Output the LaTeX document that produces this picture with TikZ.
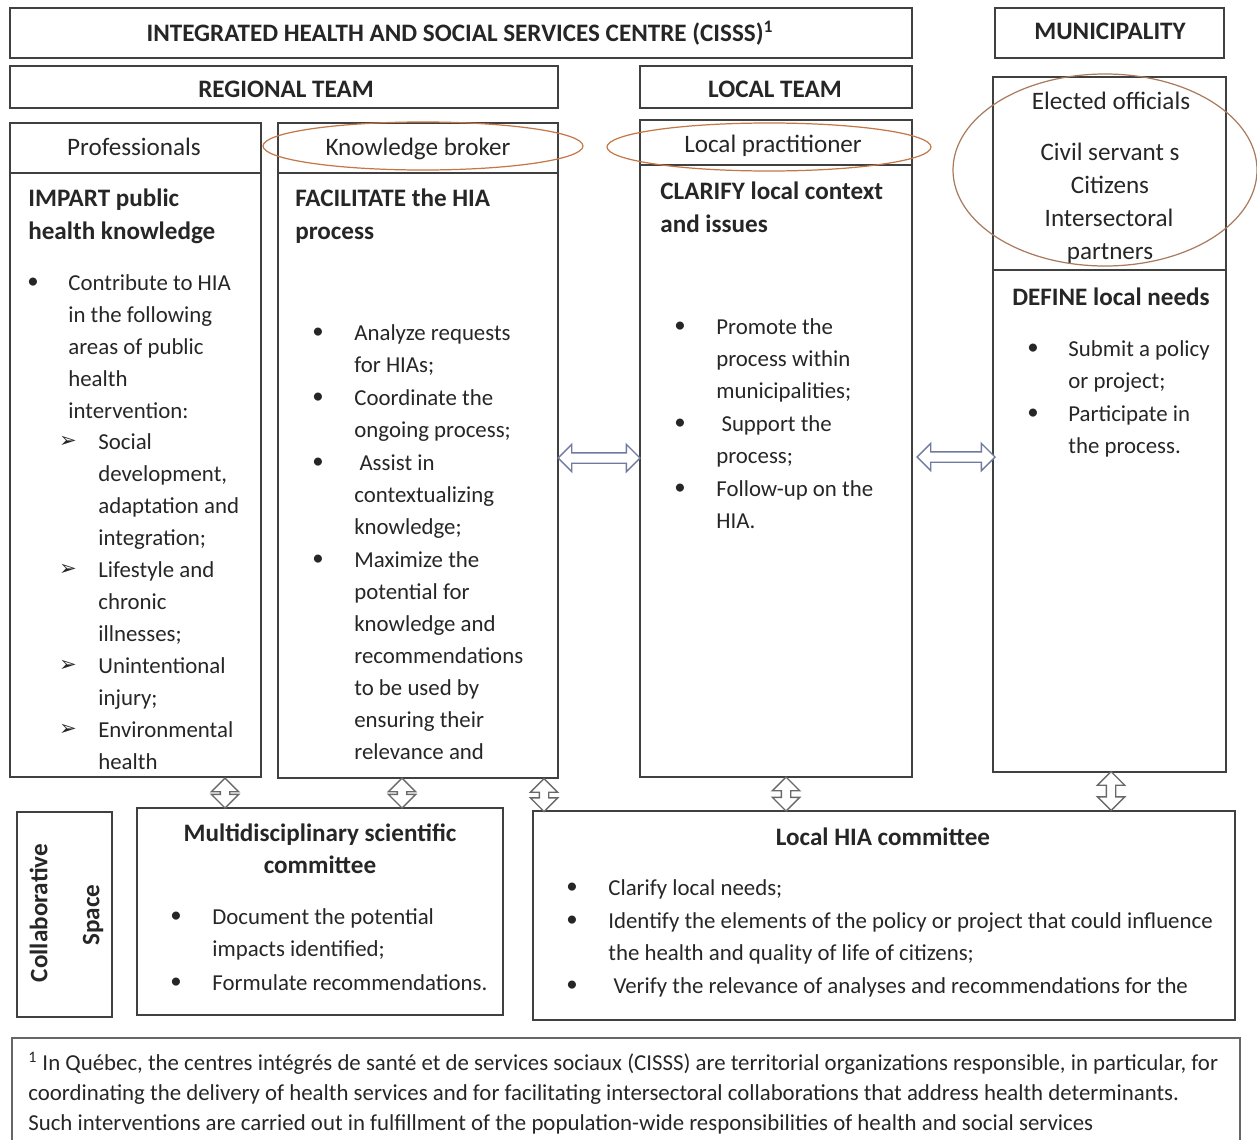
\documentclass[tikz,border=0pt]{standalone}
\usepackage{fontspec}
\setmainfont{Carlito}
\newfontfamily\dingfont{DejaVu Sans}
\usetikzlibrary{shapes.arrows,fit}
\definecolor{ringcol}{RGB}{196,120,72}
\definecolor{harcol}{RGB}{112,122,160}
\definecolor{varcol}{RGB}{105,105,105}

\begin{document}
\begin{tikzpicture}[x=0.02cm, y=-0.02cm,
    box/.style={draw=black!75, line width=1pt, inner sep=0pt},
    txt/.style={font=\fontsize{13}{18.2}\selectfont, text=black!85, inner sep=0pt, align=left, anchor=north west},
    goal/.style={font=\bfseries\fontsize{14.3}{18.7}\selectfont, text=black!85, inner sep=0pt, align=left, anchor=north west},
    vhd/.style={font=\bfseries\fontsize{14.3}{18.7}\selectfont, text=black!85, inner sep=0pt, text height=0.7em, text depth=0.2em},
    hd/.style={vhd, yshift=-0.08cm},
    nm/.style={font=\fontsize{14.3}{18.7}\selectfont, text=black!85, inner sep=0pt, text height=0.7em, text depth=0.2em, yshift=-0.08cm},
    bul/.style={font=\fontsize{13}{18.2}\selectfont, text=black!85, inner sep=0pt},
    tri/.style={font=\dingfont\fontsize{12}{12}\selectfont, text=black!85, inner sep=0pt},
    ring/.style={draw=ringcol, line width=0.7pt},
    harrow/.style={shape=double arrow, draw=harcol, fill=white, line width=0.8pt, inner sep=0.09cm, double arrow head extend=0.17cm},
    varrow/.style={shape=double arrow, shape border rotate=90, draw=varcol, fill=white, line width=0.8pt, inner sep=0.08cm, double arrow head extend=0.18cm}]

\useasboundingbox (0,0) rectangle (1257,1139);

\node[box, fit={(10,8) (912,58)}] (cisss) {};
\node[hd] (cissstxt) at (460,33) {INTEGRATED HEALTH AND SOCIAL SERVICES CENTRE (CISSS)\textsuperscript{1}};
\node[box, fit={(995,8) (1224,58)}] (muni) {};
\node[hd] (munitxt) at (1110,31) {MUNICIPALITY};
\node[box, fit={(10,66) (558,108)}] (regional) {};
\node[hd] (regionaltxt) at (286,89) {REGIONAL TEAM};
\node[box, fit={(640,66) (912,108)}] (local) {};
\node[hd] (localtxt) at (775,89) {LOCAL TEAM};

\node[box, fit={(10,123) (261,173)}] (profhead) {};
\node[nm] (proftxt) at (134,147) {Professionals};
\node[box, fit={(10,173) (261,777)}] (profbody) {};
\node[goal] (profgoal) at (28,189) {IMPART public\\health knowledge};
\node[bul] (pb1) at (33,283) {•};
\node[txt] (pi1) at (68,274) {Contribute to HIA\\in the following\\areas of public\\health\\intervention:};
\node[tri] (pt1) at (68,442) {➢};
\node[txt] (ps1) at (98,433) {Social\\development,\\adaptation and\\integration;};
\node[tri] (pt2) at (68,570) {➢};
\node[txt] (ps2) at (98,561) {Lifestyle and\\chronic\\illnesses;};
\node[tri] (pt3) at (68,666) {➢};
\node[txt] (ps3) at (98,657) {Unintentional\\injury;};
\node[tri] (pt4) at (68,730) {➢};
\node[txt] (ps4) at (98,721) {Environmental\\health};

\node[box, fit={(278,123) (558,173)}] (brokerhead) {};
\node[nm] (brokertxt) at (418,147) {Knowledge broker};
\node[box, fit={(278,173) (558,778)}] (brokerbody) {};
\node[goal] (brokergoal) at (295,189) {FACILITATE the HIA\\process};
\node[bul] (bb1) at (318,333) {•};
\node[txt] (bi1) at (354,324) {Analyze requests\\for HIAs;};
\node[bul] (bb2) at (318,398) {•};
\node[txt] (bi2) at (354,389) {Coordinate the\\ongoing process;};
\node[bul] (bb3) at (318,463) {•};
\node[txt] (bi3) at (354,454) {\ Assist in\\contextualizing\\knowledge;};
\node[bul] (bb4) at (318,560) {•};
\node[txt] (bi4) at (354,551) {Maximize the\\potential for\\knowledge and\\recommendations\\to be used by\\ensuring their\\relevance and};

\node[box, fit={(640,120) (912,165)}] (practhead) {};
\node[nm] (practtxt) at (773,144) {Local practitioner};
\node[box, fit={(640,165) (912,777)}] (practbody) {};
\node[goal] (practgoal) at (660,182) {CLARIFY local context\\and issues};
\node[bul] (lb1) at (680,327) {•};
\node[txt] (li1) at (716,318) {Promote the\\process within\\municipalities;};
\node[bul] (lb2) at (680,424) {•};
\node[txt] (li2) at (716,415) {\ Support the\\process;};
\node[bul] (lb3) at (680,489) {•};
\node[txt] (li3) at (716,480) {Follow-up on the\\HIA.};

\node[box, fit={(993,77) (1226,270)}] (people) {};
\node[nm] (elected) at (1111,101) {Elected officials};
\node[nm] (civil) at (1110,152) {Civil servant s};
\node[nm] (citizens) at (1110,185) {Citizens};
\node[nm] (inter) at (1109,218) {Intersectoral};
\node[nm] (partners) at (1110,251) {partners};
\node[box, fit={(993,270) (1226,772)}] (needsbody) {};
\node[hd] (needsgoal) at (1111,297) {DEFINE local needs};
\node[bul] (nb1) at (1033,349) {•};
\node[txt] (ni1) at (1068,340) {Submit a policy\\or project;};
\node[bul] (nb2) at (1033,414) {•};
\node[txt] (ni2) at (1068,405) {Participate in\\the process.};

\draw[ring] (423,146) ellipse [x radius=160, y radius=24];
\draw[ring] (769,147) ellipse [x radius=162, y radius=24];
\draw[ring, draw=ringcol!60!gray] (1105,170) ellipse [x radius=152, y radius=96];

\node[box, fit={(17,812) (112,1017)}] (collab) {};
\node[vhd, rotate=90] (collabtxt) at (43,913) {Collaborative};
\node[vhd, rotate=90] (spacetxt) at (95,915) {Space};

\node[box, fit={(137,808) (503,1015)}] (multi) {};
\node[goal, align=center, anchor=north] (multitxt) at (320,823) {Multidisciplinary scientific\\committee};
\node[bul] (mb1) at (176,917) {•};
\node[txt] (mi1) at (212,908) {Document the potential\\impacts identified;};
\node[bul] (mb2) at (176,983) {•};
\node[txt] (mi2) at (212,974) {Formulate recommendations.};

\node[box, fit={(533,811) (1235,1020)}] (hiacom) {};
\node[hd] (hiatxt) at (883,837) {Local HIA committee};
\node[bul] (hb1) at (572,888) {•};
\node[txt] (hi1) at (608,879) {Clarify local needs;};
\node[bul] (hb2) at (572,921) {•};
\node[txt] (hi2) at (608,912) {Identify the elements of the policy or project that could influence\\the health and quality of life of citizens;};
\node[bul] (hb3) at (572,986) {•};
\node[txt] (hi3) at (608,977) {\ Verify the relevance of analyses and recommendations for the};

\node[box, draw=black!60, fit={(12,1038) (1240,1160)}] (note) {};
\node[txt, font=\fontsize{13}{17}\selectfont] (notetxt) at (28,1052) {\textsuperscript{1} In Québec, the centres intégrés de santé et de services sociaux (CISSS) are territorial organizations responsible, in particular, for\\coordinating the delivery of health services and for facilitating intersectoral collaborations that address health determinants.\\Such interventions are carried out in fulfillment of the population-wide responsibilities of health and social services};

\node[harrow, minimum height=1.64cm] (arr1) at (599,458) {};
\node[harrow, minimum height=1.56cm] (arr2) at (956,457) {};
\node[varrow, minimum height=0.6cm] (varr1) at (225,793) {};
\node[varrow, minimum height=0.6cm] (varr2) at (402,793) {};
\node[varrow, minimum height=0.66cm] (varr3) at (544,795) {};
\node[varrow, minimum height=0.68cm] (varr4) at (786,794) {};
\node[varrow, minimum height=0.78cm] (varr5) at (1111,791) {};

\end{tikzpicture}
\end{document}
